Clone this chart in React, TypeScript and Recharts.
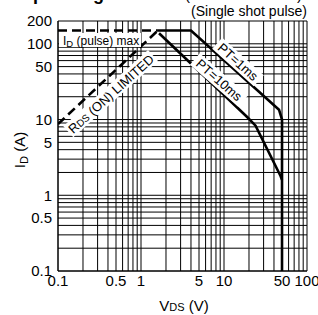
import { LineChart, Line, XAxis, YAxis, ReferenceLine } from 'recharts'

const xTicks = [0.1, 0.5, 1, 5, 10, 50, 100]
const yTicks = [0.1, 0.5, 1, 5, 10, 50, 100, 200]

// log grid: 1..9 in every decade
const xGrid = [0.1, 0.2, 0.3, 0.4, 0.5, 0.6, 0.7, 0.8, 0.9, 1, 2, 3, 4, 5, 6, 7, 8, 9, 10, 20, 30, 40, 50, 60, 70, 80, 90, 100]
const yGrid = [0.1, 0.2, 0.3, 0.4, 0.5, 0.6, 0.7, 0.8, 0.9, 1, 2, 3, 4, 5, 6, 7, 8, 9, 10, 20, 30, 40, 50, 60, 70, 80, 90, 100, 200]

const idPulseMax = [
    { x: 0.1, y: 150 },
    { x: 1.6, y: 150 },
]
const rdsOnLimited = [
    { x: 0.1, y: 8.7 },
    { x: 1.6, y: 150 },
]
const pt1ms = [
    { x: 1.6, y: 150 },
    { x: 4, y: 150 },
    { x: 46, y: 13.5 },
    { x: 50, y: 10 },
    { x: 50, y: 0.1 },
]
const pt10ms = [
    { x: 1.65, y: 138 },
    { x: 19, y: 10.8 },
    { x: 24, y: 8.3 },
    { x: 48, y: 1.8 },
    { x: 50, y: 1.6 },
]

const font = '"Liberation Sans", Arial, sans-serif'

export default function App() {
    return (
        <div style={{ position: 'absolute', left: 0, top: 0, width: 318, height: 315, background: '#fff', fontFamily: font }}>
            <LineChart width={318} height={315} margin={{ top: 21, right: 11, bottom: 0, left: 8 }}>
                <XAxis
                    type="number"
                    dataKey="x"
                    scale="log"
                    domain={[0.1, 100]}
                    ticks={xTicks}
                    interval={0}
                    allowDataOverflow
                    height={44}
                    tickLine={false}
                    tickSize={0}
                    tickMargin={4}
                    axisLine={{ stroke: '#000', strokeWidth: 1 }}
                    tick={{ fontSize: 15, fill: '#000', fontFamily: font }}
                    tickFormatter={(v: number) => String(v)}
                />
                <YAxis
                    type="number"
                    dataKey="y"
                    scale="log"
                    domain={[0.1, 200]}
                    ticks={yTicks}
                    interval={0}
                    allowDataOverflow
                    width={50}
                    tickLine={false}
                    tickSize={0}
                    tickMargin={6}
                    axisLine={{ stroke: '#000', strokeWidth: 1 }}
                    tick={{ fontSize: 15, fill: '#000', fontFamily: font }}
                    tickFormatter={(v: number) => String(v)}
                />
                {xGrid.map((v) => (
                    <ReferenceLine key={'gx' + v} x={v} stroke="#000" strokeWidth={1} />
                ))}
                {yGrid.map((v) => (
                    <ReferenceLine key={'gy' + v} y={v} stroke="#000" strokeWidth={1} />
                ))}
                <Line data={idPulseMax} dataKey="y" stroke="#000" strokeWidth={2.6} strokeDasharray="9 5" dot={false} isAnimationActive={false} type="linear" />
                <Line data={rdsOnLimited} dataKey="y" stroke="#000" strokeWidth={2.6} strokeDasharray="9 5" dot={false} isAnimationActive={false} type="linear" />
                <Line data={pt1ms} dataKey="y" stroke="#000" strokeWidth={2.6} dot={false} isAnimationActive={false} type="linear" />
                <Line data={pt10ms} dataKey="y" stroke="#000" strokeWidth={2.6} dot={false} isAnimationActive={false} type="linear" />
            </LineChart>
            <svg width={318} height={315} style={{ position: 'absolute', left: 0, top: 0, pointerEvents: 'none' }} fontFamily={font}>
                <text x={-21} y={-0.5} fontSize={18} fontWeight="bold" fill="#000">Safe operating area</text>
                <text x={185} y={-0.5} fontSize={15} fill="#000" textLength={117} lengthAdjust="spacing">(Tc = 25°C)</text>
                <text x={307} y={16} fontSize={14} fill="#000" textAnchor="end">(Single shot pulse)</text>

                <rect x={59} y={33} width={82} height={14} fill="#fff" />
                <text x={63} y={44.5} fontSize={12} fill="#000">
                    I<tspan fontSize={9.5} dy={2}>D</tspan><tspan dy={-2}> (pulse) max</tspan>
                </text>

                <g transform="translate(111,94) rotate(-42)">
                    <rect x={-57} y={-8} width={114} height={15} fill="#fff" />
                    <text x={0} y={4.5} fontSize={13} fill="#000" textAnchor="middle">
                        R<tspan fontSize={10}>DS</tspan> (ON) LIMITED
                    </text>
                </g>
                <g transform="translate(238,62) rotate(42)">
                    <rect x={-28} y={-7.5} width={56} height={15} fill="#fff" />
                    <text x={0} y={4.5} fontSize={13} fill="#000" textAnchor="middle">PT=1ms</text>
                </g>
                <g transform="translate(219,80) rotate(41)">
                    <rect x={-32} y={-7.5} width={64} height={15} fill="#fff" />
                    <text x={0} y={4.5} fontSize={13} fill="#000" textAnchor="middle">PT=10ms</text>
                </g>

                <text transform="translate(25,150) rotate(-90)" fontSize={15} fill="#000" textAnchor="middle">
                    I<tspan fontSize={11} dy={3}>D</tspan><tspan dy={-3}>  (A)</tspan>
                </text>
                <text x={184} y={311} fontSize={15} fill="#000" textAnchor="middle">
                    V<tspan fontSize={11}>DS</tspan> (V)
                </text>
            </svg>
        </div>
    )
}
